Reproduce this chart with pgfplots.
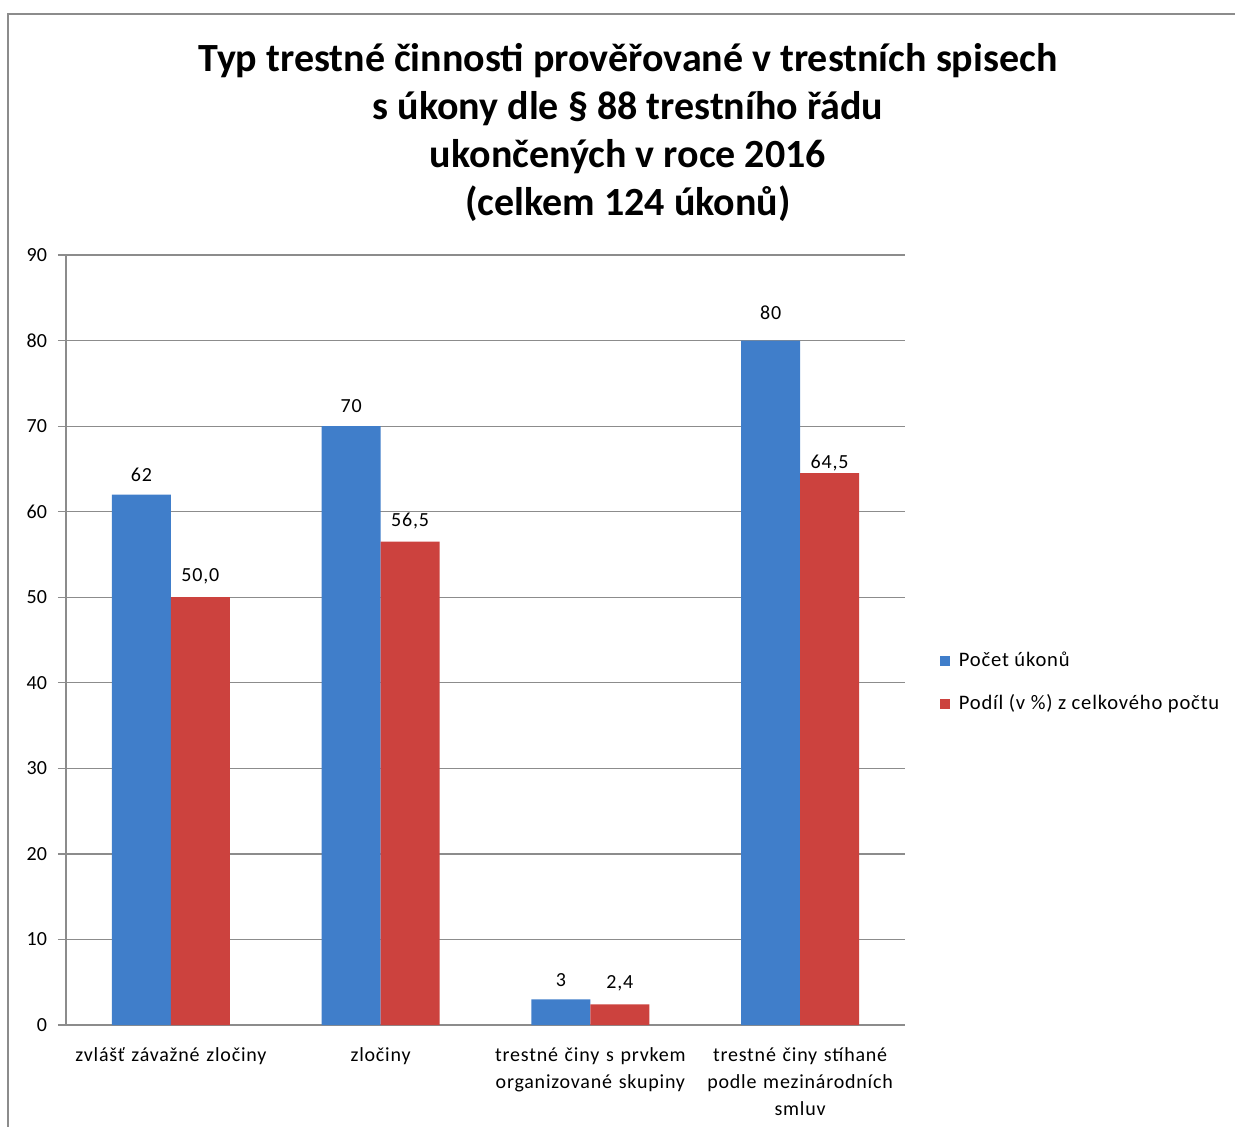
\documentclass[border=0pt]{standalone}
\usepackage{fontspec}
\setmainfont{Carlito}
\newfontfamily\lbl[LetterSpace=4]{Carlito}
\usepackage{pgfplots}
\pgfplotsset{compat=1.18}

\definecolor{barblue}{RGB}{64,126,202}
\definecolor{barred}{RGB}{204,66,62}
\definecolor{axgray}{RGB}{140,140,140}

% 1 px of the reference = 0.5pt
\newcommand{\px}{0.5pt}

\begin{document}
\begin{tikzpicture}[x=\px,y=\px]
\useasboundingbox (0,0) rectangle (1235,1126);
% chart frame (top and left edge visible)
\draw[axgray,line width=1.2pt] (8,-5) -- (8,1112) -- (1240,1112);

\node[font=\bfseries\fontsize{20}{24}\selectfont,align=center,anchor=center]
  at (628,994) {Typ trestné činnosti prověřované v trestních spisech\\
  s úkony dle § 88 trestního řádu\\
  ukončených v roce 2016\\
  (celkem 124 úkonů)};

\begin{axis}[
  at={(33pt,50.5pt)}, anchor=south west,
  scale only axis,
  width=419.5pt, height=385pt,
  ybar=0pt, bar width=29.5pt,
  xmin=-0.5, xmax=3.5,
  ymin=0, ymax=90,
  ytick={0,10,...,90},
  xtick={0,1,2,3},
  xticklabels={zvlášť závažné zločiny, zločiny,
    {trestné činy s prvkem\\organizované skupiny},
    {trestné činy stíhané\\podle mezinárodních\\smluv}},
  xticklabel style={align=center, text width=104pt, font=\lbl\fontsize{10}{13.5}\selectfont, yshift=-4pt},
  yticklabel style={font=\fontsize{10}{11}\selectfont, xshift=-2pt},
  /pgf/number format/assume math mode=true,
  major x tick style={draw=none},
  extra x ticks={-0.5,0.5,1.5,2.5,3.5},
  extra x tick labels={},
  extra x tick style={major tick length=4pt, tick align=outside, tick style={axgray, line width=0.6pt}, grid=none},
  ymajorgrids,
  grid style={axgray, line width=0.6pt},
  ytick style={axgray, line width=0.6pt},
  tick align=outside,
  major tick length=4pt,
  axis x line*=bottom, axis y line*=left,
  axis line style={axgray, line width=0.6pt},
  nodes near coords,
  point meta=explicit symbolic,
  every node near coord/.append style={font=\lbl\fontsize{10}{11}\selectfont, black, yshift=3pt},
  legend style={at={(1.041,0.445)}, anchor=west, draw=none, fill=none,
    font=\lbl\fontsize{10.3}{11}\selectfont, row sep=8.5pt,
    legend cell align=left, inner sep=0pt},
  legend image code/.code={\fill[#1] (0pt,-2.5pt) rectangle (5pt,2.5pt);
    \path (7.5pt,0pt);},
]
\addplot[fill=barblue, draw=none] coordinates {
  (0,62) [62]
  (1,70) [70]
  (2,3) [3]
  (3,80) [{\raisebox{4pt}{80}}]
};
\addplot[fill=barred, draw=none] coordinates {
  (0,50.0) [{50,0}]
  (1,56.5) [{56,5}]
  (2,2.4) [{2,4}]
  (3,64.5) [{\raisebox{-4pt}[0pt][0pt]{64,5}}]
};
\legend{Počet úkonů, Podíl (v \%) z celkového počtu}
\end{axis}
\end{tikzpicture}
\end{document}
